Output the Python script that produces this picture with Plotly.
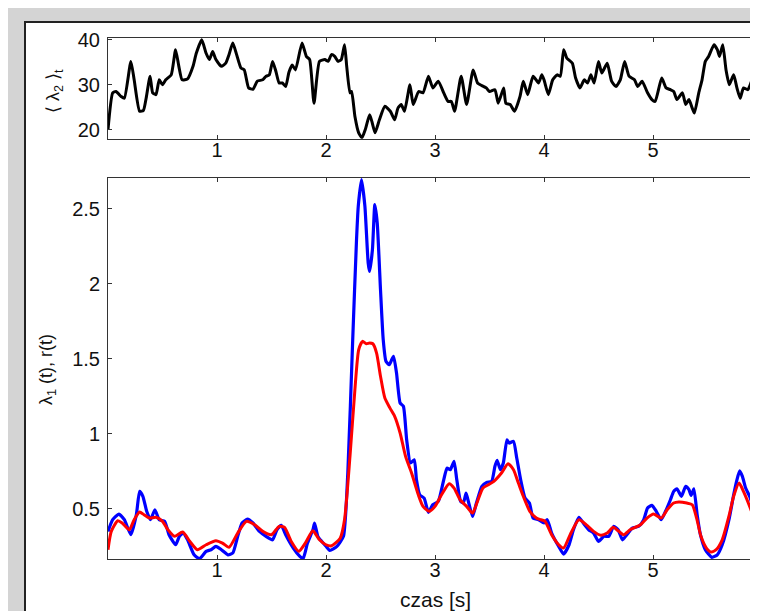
import plotly.graph_objects as go
from plotly.subplots import make_subplots

# ---- data: top panel <lambda_2>_t ----
t_top = [0.0, 0.043, 0.073, 0.12, 0.15, 0.21, 0.24, 0.29, 0.325, 0.35, 0.386, 0.41, 0.44, 0.47, 0.50,
         0.53, 0.58, 0.62, 0.65, 0.68, 0.73, 0.78, 0.81, 0.86, 0.90, 0.93, 0.96, 0.99, 1.04, 1.08,
         1.11, 1.145, 1.18, 1.22, 1.25, 1.29, 1.33, 1.37, 1.42, 1.45, 1.48, 1.51, 1.54, 1.57, 1.60,
         1.63, 1.66, 1.69, 1.72, 1.78, 1.82, 1.85, 1.89, 1.94, 1.99, 2.02, 2.05, 2.08, 2.11, 2.14,
         2.17, 2.19, 2.22, 2.235, 2.265, 2.30, 2.33, 2.36, 2.40, 2.42, 2.45, 2.49, 2.54, 2.59, 2.63,
         2.66, 2.69, 2.72, 2.77, 2.80, 2.85, 2.89, 2.94, 2.98, 3.03, 3.08, 3.12, 3.15, 3.18, 3.24,
         3.29, 3.35, 3.39, 3.43, 3.47, 3.50, 3.55, 3.58, 3.63, 3.65, 3.69, 3.73, 3.78, 3.81, 3.85,
         3.90, 3.95, 3.98, 4.00, 4.04, 4.08, 4.12, 4.15, 4.18, 4.21, 4.26, 4.29, 4.33, 4.37, 4.40,
         4.43, 4.46, 4.50, 4.53, 4.58, 4.62, 4.66, 4.70, 4.74, 4.78, 4.83, 4.86, 4.90, 4.95, 4.99,
         5.02, 5.08, 5.12, 5.16, 5.19, 5.22, 5.27, 5.30, 5.33, 5.36, 5.38, 5.42, 5.45, 5.48, 5.51,
         5.56, 5.59, 5.61, 5.64, 5.67, 5.70, 5.74, 5.77, 5.80, 5.83, 5.87, 5.91, 5.95, 5.98, 6.0]
lam2 = [20.0, 28.2, 28.5, 27.4, 27.0, 35.2, 31.1, 24.1, 24.3, 27.0, 31.9, 28.2, 27.8, 31.1, 30.0,
        31.1, 32.2, 37.8, 34.1, 31.1, 31.3, 34.1, 37.0, 40.0, 37.0, 35.6, 37.4, 35.6, 34.1, 34.8,
        36.7, 39.3, 36.7, 33.7, 33.3, 29.3, 29.0, 30.8, 31.1, 31.9, 32.2, 35.2, 33.0, 30.4, 30.4,
        29.6, 32.8, 34.4, 33.3, 39.3, 36.3, 35.6, 25.9, 35.2, 35.6, 35.2, 36.7, 36.3, 35.2, 35.6,
        38.9, 34.1, 28.2, 28.5, 23.0, 19.3, 18.2, 20.0, 23.3, 21.9, 19.3, 22.2, 25.2, 24.1, 22.2,
        24.8, 25.6, 24.1, 30.0, 25.6, 28.5, 28.2, 31.9, 29.3, 30.8, 28.2, 26.3, 26.3, 24.1, 31.9,
        25.6, 33.3, 30.4, 29.8, 29.3, 28.5, 28.9, 25.9, 29.3, 25.9, 25.6, 24.1, 27.4, 30.8, 27.8,
        31.9, 30.4, 32.2, 31.1, 27.8, 31.1, 32.2, 31.9, 37.8, 35.9, 34.8, 31.5, 29.3, 31.1, 30.4,
        32.2, 30.4, 35.2, 32.6, 34.8, 30.8, 29.6, 31.1, 35.2, 31.9, 31.1, 29.6, 30.8, 28.2, 26.7,
        26.3, 31.5, 29.3, 28.9, 28.5, 26.7, 28.2, 25.6, 26.7, 24.8, 23.7, 28.2, 31.1, 35.2, 36.3,
        38.9, 37.8, 36.3, 38.9, 33.3, 30.0, 32.2, 29.3, 27.0, 29.3, 28.9, 31.1, 32.2, 32.2, 31.9]

# ---- data: bottom panel lambda_1(t) (blue) ----
t_l1 = [0.0, 0.043, 0.10, 0.15, 0.21, 0.26, 0.29, 0.32, 0.355, 0.39, 0.43, 0.47, 0.52, 0.56, 0.62,
        0.655, 0.69, 0.73, 0.79, 0.84, 0.90, 0.945, 0.99, 1.04, 1.10, 1.145, 1.19, 1.23, 1.28, 1.33,
        1.39, 1.45, 1.51, 1.55, 1.59, 1.63, 1.70, 1.76, 1.79, 1.83, 1.88, 1.895, 1.925, 1.96, 2.0,
        2.035, 2.10, 2.16, 2.20, 2.245, 2.28, 2.296, 2.326, 2.357, 2.387, 2.40, 2.426, 2.448, 2.47,
        2.50, 2.525, 2.55, 2.58, 2.60, 2.62, 2.647, 2.68, 2.71, 2.74, 2.775, 2.81, 2.83, 2.86, 2.90,
        2.94, 2.98, 3.03, 3.08, 3.11, 3.14, 3.175, 3.20, 3.235, 3.26, 3.285, 3.306, 3.345, 3.38,
        3.43, 3.474, 3.52, 3.55, 3.57, 3.60, 3.627, 3.66, 3.68, 3.72, 3.75, 3.786, 3.826, 3.866,
        3.90, 3.95, 4.0, 4.03, 4.07, 4.135, 4.18, 4.23, 4.27, 4.32, 4.36, 4.41, 4.455, 4.50, 4.55,
        4.594, 4.64, 4.68, 4.72, 4.76, 4.81, 4.87, 4.915, 4.95, 4.99, 5.03, 5.075, 5.115, 5.16,
        5.19, 5.22, 5.26, 5.30, 5.33, 5.35, 5.375, 5.405, 5.435, 5.48, 5.54, 5.59, 5.635, 5.70,
        5.74, 5.77, 5.795, 5.82, 5.85, 5.89, 5.925, 5.96, 6.0]
lam1 = [0.349, 0.427, 0.465, 0.427, 0.327, 0.46, 0.616, 0.583, 0.483, 0.427, 0.493, 0.427, 0.416, 0.327, 0.26,
        0.316, 0.338, 0.293, 0.193, 0.167, 0.216, 0.227, 0.249, 0.227, 0.193, 0.205, 0.316, 0.405, 0.431, 0.405,
        0.349, 0.316, 0.293, 0.36, 0.389, 0.327, 0.238, 0.183, 0.167, 0.271, 0.36, 0.405, 0.316, 0.283, 0.25,
        0.222, 0.249, 0.316, 0.738, 1.627, 2.293, 2.516, 2.694, 2.516, 2.138, 2.082, 2.227, 2.527, 2.405,
        1.96, 1.627, 1.483, 1.46, 1.489, 1.516, 1.405, 1.205, 1.183, 0.96, 0.805, 0.827, 0.693, 0.593, 0.571,
        0.476, 0.527, 0.549, 0.693, 0.771, 0.76, 0.816, 0.693, 0.549, 0.538, 0.605, 0.549, 0.449, 0.538,
        0.649, 0.676, 0.683, 0.783, 0.823, 0.76, 0.805, 0.96, 0.938, 0.949, 0.838, 0.693, 0.571, 0.538,
        0.438, 0.427, 0.405, 0.427, 0.338, 0.249, 0.198, 0.26, 0.36, 0.443, 0.405, 0.36, 0.338, 0.283, 0.316,
        0.316, 0.383, 0.36, 0.293, 0.327, 0.371, 0.383, 0.427, 0.505, 0.523, 0.483, 0.427, 0.483, 0.56,
        0.616, 0.633, 0.583, 0.649, 0.627, 0.589, 0.633, 0.46, 0.327, 0.227, 0.176, 0.193, 0.26, 0.438,
        0.593, 0.693, 0.753, 0.716, 0.638, 0.576, 0.483, 0.349, 0.238]

# ---- data: bottom panel r(t) (red) ----
t_r = [0.0, 0.03, 0.09, 0.13, 0.195, 0.24, 0.29, 0.33, 0.38, 0.44, 0.50, 0.55, 0.61, 0.685, 0.75,
       0.82, 0.90, 0.99, 1.05, 1.11, 1.19, 1.27, 1.345, 1.42, 1.50, 1.57, 1.62, 1.68, 1.75, 1.81,
       1.88, 1.94, 2.0, 2.05, 2.13, 2.17, 2.22, 2.265, 2.30, 2.335, 2.37, 2.40, 2.43, 2.464, 2.50,
       2.54, 2.587, 2.63, 2.68, 2.73, 2.785, 2.847, 2.89, 2.947, 3.0, 3.06, 3.13, 3.175, 3.23, 3.29,
       3.345, 3.39, 3.44, 3.49, 3.54, 3.61, 3.67, 3.72, 3.765, 3.81, 3.87, 3.93, 3.97, 4.01, 4.07,
       4.135, 4.18, 4.24, 4.32, 4.395, 4.455, 4.52, 4.58, 4.635, 4.68, 4.73, 4.79, 4.885, 4.945,
       5.005, 5.075, 5.13, 5.19, 5.237, 5.31, 5.36, 5.40, 5.44, 5.49, 5.535, 5.58, 5.635, 5.70,
       5.74, 5.79, 5.83, 5.895, 5.95, 6.0]
r_t = [0.227, 0.349, 0.42, 0.405, 0.36, 0.427, 0.478, 0.46, 0.438, 0.443, 0.416, 0.36, 0.316, 0.345, 0.283,
       0.227, 0.26, 0.287, 0.271, 0.243, 0.338, 0.416, 0.393, 0.349, 0.327, 0.383, 0.376, 0.283, 0.216, 0.271,
       0.353, 0.293, 0.26, 0.253, 0.304, 0.427, 0.849, 1.293, 1.56, 1.616, 1.60, 1.605, 1.60, 1.538, 1.383,
       1.238, 1.171, 1.116, 1.005, 0.849, 0.738, 0.593, 0.516, 0.483, 0.516, 0.593, 0.667, 0.638, 0.56, 0.516,
       0.471, 0.549, 0.638, 0.66, 0.683, 0.738, 0.80, 0.76, 0.671, 0.583, 0.483, 0.438, 0.427, 0.416, 0.327,
       0.26, 0.238, 0.327, 0.427, 0.389, 0.349, 0.323, 0.338, 0.376, 0.353, 0.327, 0.36, 0.393, 0.438,
       0.465, 0.438, 0.493, 0.538, 0.545, 0.538, 0.527, 0.438, 0.316, 0.238, 0.211, 0.227, 0.293, 0.46,
       0.583, 0.671, 0.616, 0.50, 0.389, 0.245]

x_ticks = [1, 2, 3, 4, 5]
top_y_ticks = [20, 30, 40]
bot_y_ticks = [0.5, 1, 1.5, 2, 2.5]

W, H = 758, 611
ML, MR, MT, MB = 100, 4, 30, 60
PW, PH = W - ML - MR, H - MT - MB

def py_frac(y):  # pixel y -> paper fraction
    return (H - MB - y) / PH

def px_frac(x):
    return (x - ML) / PW

fig = make_subplots(rows=2, cols=1)

FONT = "Liberation Sans, Arial, Helvetica, sans-serif"

fig.add_trace(go.Scatter(x=t_top, y=lam2, mode="lines",
                         line=dict(color="black", width=3, shape="spline", smoothing=0.5),
                         showlegend=False), row=1, col=1)
fig.add_trace(go.Scatter(x=t_l1, y=lam1, mode="lines",
                         line=dict(color="#0000ff", width=3.2, shape="spline", smoothing=0.5),
                         showlegend=False), row=2, col=1)
fig.add_trace(go.Scatter(x=t_r, y=r_t, mode="lines",
                         line=dict(color="#ff0000", width=3, shape="spline", smoothing=0.6),
                         showlegend=False), row=2, col=1)

axis_common = dict(showline=True, linecolor="#333333", linewidth=1, mirror="ticks",
                   ticks="inside", ticklen=4, tickcolor="#333333", showgrid=False,
                   zeroline=False, tickfont=dict(size=20, color="#111111", family=FONT))

fig.update_xaxes(range=[0, 6], tickvals=x_ticks, ticklabelstandoff=-7, **axis_common)
fig.update_yaxes(ticklabelstandoff=3, **axis_common)
fig.update_yaxes(range=[18, 40.4], tickvals=top_y_ticks, domain=[py_frac(130.7), 1.0], row=1, col=1)
fig.update_yaxes(range=[0.165, 2.705], tickvals=bot_y_ticks, domain=[0.0, py_frac(170)], row=2, col=1)

# white figure panel with dark frame on gray background
fig.add_shape(type="rect", xref="paper", yref="paper", layer="below",
              x0=px_frac(17), x1=px_frac(762), y0=py_frac(609), y1=py_frac(14),
              fillcolor="white", line=dict(color="#222222", width=2))

fig.add_annotation(text="czas [s]", xref="paper", yref="paper", x=px_frac(427), y=py_frac(591),
                   showarrow=False, xanchor="center", yanchor="middle",
                   font=dict(size=21, color="#111111", family=FONT))
fig.add_annotation(text="⟨ λ<sub>2</sub> ⟩<sub>t</sub>", xref="paper", yref="paper",
                   x=px_frac(46), y=py_frac(83), textangle=-90, showarrow=False,
                   xanchor="center", yanchor="middle",
                   font=dict(size=18, color="#111111", family=FONT))
fig.add_annotation(text="λ<sub>1</sub> (t), r(t)", xref="paper", yref="paper",
                   x=px_frac(40), y=py_frac(362), textangle=-90, showarrow=False,
                   xanchor="center", yanchor="middle",
                   font=dict(size=18, color="#111111", family=FONT))

fig.update_layout(width=W, height=H, margin=dict(l=ML, r=MR, t=MT, b=MB),
                  paper_bgcolor="#d4d4d4", plot_bgcolor="white",
                  font=dict(family=FONT, color="#111111"), showlegend=False)

fig.write_html("out.html")
